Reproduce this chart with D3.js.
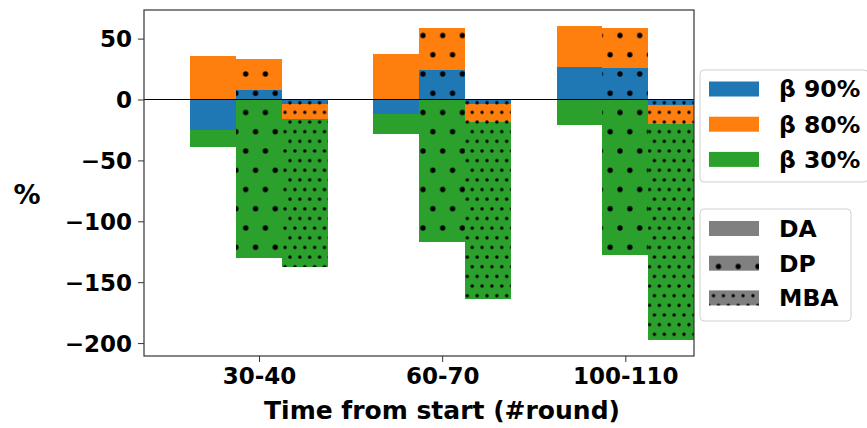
<!DOCTYPE html>
<html><head><meta charset="utf-8">
<script src="https://cdnjs.cloudflare.com/ajax/libs/d3/7.8.5/d3.min.js"></script>
<style>body{margin:0;background:#fff}svg{display:block}text{font-family:"DejaVu Sans",sans-serif;font-weight:bold;fill:#000}</style>
</head><body><svg id="c" width="867" height="428"></svg>
<script>
const categories = ["30-40", "60-70", "100-110"];
const methods = ["DA", "DP", "MBA"];
const betas = ["β 90%", "β 80%", "β 30%"];
const beta90 = { DA: [-24.7, -12.1, 26.9], DP: [8.2, 24.1, 25.5], MBA: [-3.9, -4.0, -4.7] };
const beta80 = { DA: [35.9, 37.0, 60.6], DP: [33.2, 59.0, 58.5], MBA: [-16.2, -18.7, -19.8] };
const beta30 = { DA: [-39.0, -28.6, -21.2], DP: [-130.5, -117.0, -127.4], MBA: [-137.9, -163.9, -197.7] };
const yTicks = [50, 0, -50, -100, -150, -200];
const colors = { "β 90%": "#1f77b4", "β 80%": "#ff7f0e", "β 30%": "#2ca02c" };

const svg = d3.select("#c");
const L = 144, R = 694, T = 10, B = 356;
const x = d3.scaleLinear().domain([-0.628, 2.375]).range([L, R]);
const y = d3.scaleLinear().domain([-210.6, 73.5]).range([B, T]);
const barW = 0.25;
const offs = { DA: -0.25, DP: 0, MBA: 0.25 };

// hatch patterns
const defs = svg.append("defs");
function dotPattern(id, w, h, ox, oy, r) {
  const p = defs.append("pattern").attr("id", id).attr("patternUnits", "userSpaceOnUse")
    .attr("x", ox).attr("y", oy).attr("width", w).attr("height", h);
  [[0,0],[w,0],[0,h],[w,h],[w/2,h/2]].forEach(([cx,cy]) =>
    p.append("circle").attr("cx", cx).attr("cy", cy).attr("r", r).attr("fill", "#000"));
}
dotPattern("hDP", 19.7, 38.5, 245.7, 74, 2.65);
dotPattern("hMBA", 9.85, 19.3, 290, 102.7, 1.7);
const hatch = { DA: null, DP: "url(#hDP)", MBA: "url(#hMBA)" };

defs.append("clipPath").attr("id", "plot")
  .append("rect").attr("x", L).attr("y", T).attr("width", R - L).attr("height", B - T);
const g = svg.append("g").attr("clip-path", "url(#plot)");

// draw order: β30, β80, β90 (overlaid, each from zero)
const layers = [["β 30%", beta30], ["β 80%", beta80], ["β 90%", beta90]];
layers.forEach(([name, data]) => {
  methods.forEach(m => {
    const rows = categories.map((c, i) => ({ i, v: data[m][i] }));
    const fills = hatch[m] ? [colors[name], hatch[m]] : [colors[name]];
    fills.forEach(f => {
      g.selectAll(null).data(rows).enter().append("rect")
        .attr("x", d => x(d.i + offs[m] - barW / 2))
        .attr("width", d => x(d.i + offs[m] + barW / 2) - x(d.i + offs[m] - barW / 2))
        .attr("y", d => y(Math.max(0, d.v)))
        .attr("height", d => Math.abs(y(d.v) - y(0)))
        .attr("shape-rendering", "crispEdges")
        .attr("fill", f);
    });
  });
});

// zero line
svg.append("line").attr("x1", L).attr("x2", R).attr("y1", y(0)).attr("y2", y(0))
  .attr("stroke", "#000").attr("stroke-width", 1);

// axes
const yAxis = d3.axisLeft(y).tickValues(yTicks).tickSize(6).tickPadding(6)
  .tickFormat(d => d < 0 ? "\u2212" + Math.abs(d) : d);
const ya = svg.append("g").attr("transform", `translate(${L},0)`).call(yAxis);
ya.select(".domain").remove();
ya.selectAll("text").style("font-size", "23px").attr("dy", "0.36em");
ya.selectAll("line").attr("stroke", "#333");

const xAxis = d3.axisBottom(x).tickValues([0, 1, 2]).tickFormat(i => categories[i]).tickSize(6).tickPadding(6);
const xa = svg.append("g").attr("transform", `translate(0,${B})`).call(xAxis);
xa.select(".domain").remove();
xa.selectAll("text").style("font-size", "23px");
xa.selectAll("line").attr("stroke", "#333");

svg.append("rect").attr("x", L).attr("y", T).attr("width", R - L).attr("height", B - T)
  .attr("fill", "none").attr("stroke", "#333").attr("stroke-width", 1.2);

svg.append("text").attr("x", 442).attr("y", 419).attr("text-anchor", "middle")
  .style("font-size", "25px").text("Time from start (#round)");
svg.append("text").attr("x", 27).attr("y", 204).attr("text-anchor", "middle")
  .style("font-size", "27px").text("%");

// legends
function legendBox(x0, y0, w, h) {
  svg.append("rect").attr("x", x0).attr("y", y0).attr("width", w).attr("height", h)
    .attr("rx", 4).attr("fill", "#fff").attr("fill-opacity", 0.8)
    .attr("stroke", "#d0d0d0").attr("stroke-width", 1);
}
legendBox(700, 70, 168, 112);
betas.forEach((b, k) => {
  const cy = 89 + k * 35.2;
  svg.append("rect").attr("x", 709).attr("y", cy - 7.5).attr("width", 50).attr("height", 15).attr("fill", colors[b]);
  svg.append("text").attr("x", 779).attr("y", cy).attr("dy", "0.36em").style("font-size", "23.5px").text(b);
});
legendBox(700, 209, 151, 112);
methods.forEach((m, k) => {
  const cy = 228.5 + k * 34.7;
  svg.append("rect").attr("x", 709).attr("y", cy - 7.5).attr("width", 50).attr("height", 15).attr("fill", "#808080");
  if (hatch[m]) svg.append("rect").attr("x", 709).attr("y", cy - 7.5).attr("width", 50).attr("height", 15).attr("fill", hatch[m]);
  svg.append("text").attr("x", 779).attr("y", cy).attr("dy", "0.36em").style("font-size", "23.5px").text(m);
});
</script></body></html>
